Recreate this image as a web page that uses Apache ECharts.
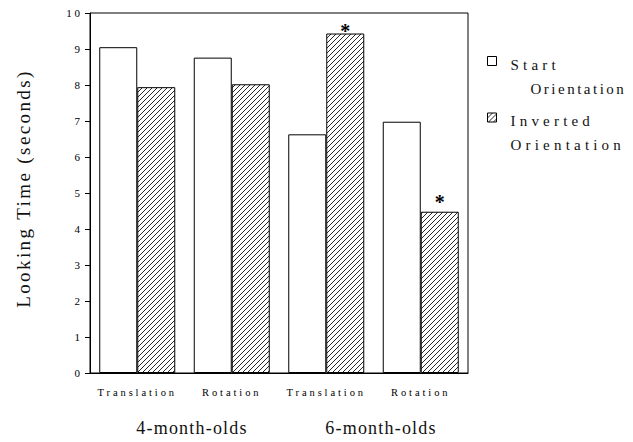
<!DOCTYPE html>
<html><head><meta charset="utf-8">
<script src="https://cdn.jsdelivr.net/npm/echarts@6/dist/echarts.min.js"></script>
<style>
html,body{margin:0;padding:0;background:#fff}
#c{width:633px;height:442px}
#c text[style*="Thorndale"]{letter-spacing:2.9px}
#c text[style*="Times, serif"]{letter-spacing:4.2px}
#c text[style*="Georgia"]{letter-spacing:2.5px}
#c text[style*="Tinos"]{letter-spacing:2.4px}
#c text[style*="Cambria"]{letter-spacing:1.2px}
</style></head><body><div id="c"></div>
<script>
const categories = ['Translation', 'Rotation', 'Translation', 'Rotation'];
const groups = ['4-month-olds', '6-month-olds'];
const seriesNames = ['Start Orientation', 'Inverted Orientation'];
const legendLines = [['Start', 'Orientation'], ['Inverted', 'Orientation']];
const startValues = [9.05, 8.76, 6.63, 6.98];
const invertedValues = [7.94, 8.02, 9.43, 4.48];
const significant = [false, false, true, true];
const yMin = 0, yMax = 10, yStep = 1;

const F_TICK = 'Liberation Serif, Thorndale, serif';
const F_LEG = 'Liberation Serif, Times, serif';
const F_LEG2 = 'Liberation Serif, Georgia, serif';
const F_NAME = 'Liberation Serif, Tinos, serif';
const F_GRP = 'Liberation Serif, Cambria, serif';

function hatch() {
  const s = 5, c = document.createElement('canvas');
  c.width = s; c.height = s;
  const g = c.getContext('2d');
  g.fillStyle = '#fff'; g.fillRect(0, 0, s, s);
  g.strokeStyle = '#111'; g.lineWidth = 0.9;
  g.beginPath();
  g.moveTo(-1, s + 1); g.lineTo(s + 1, -1);
  g.moveTo(-1, 1); g.lineTo(1, -1);
  g.moveTo(s - 1, s + 1); g.lineTo(s + 1, s - 1);
  g.stroke();
  return c;
}

const chart = echarts.init(document.getElementById('c'), null, {renderer: 'svg'});
const starDist = [0, 0, -7, 0];
chart.setOption({
  animation: false,
  backgroundColor: '#fff',
  grid: {left: 90, top: 13, right: 165, bottom: 69, show: true, borderColor: '#000', borderWidth: 1},
  legend: {
    orient: 'vertical', left: 487, top: 21.5, padding: 0,
    itemWidth: 9, itemHeight: 9, itemGap: -22.5, selectedMode: false, icon: 'rect',
    itemStyle: {borderWidth: 1, borderColor: '#000'},
    data: seriesNames,
    formatter: name => {
      const l = legendLines[seriesNames.indexOf(name)];
      return '{s| }\n{a|' + l[0] + '}\n' + (name === seriesNames[0] ? '{c|' + l[1] + '}' : '{a|' + l[1] + '}');
    },
    textStyle: {
      fontFamily: F_LEG, fontSize: 15, lineHeight: 24, color: '#111', padding: [0, 0, 0, 9],
      rich: {
        s: {fontSize: 1, lineHeight: 31},
        a: {fontFamily: F_LEG, fontSize: 15, lineHeight: 24, color: '#111'},
        c: {fontFamily: F_LEG2, fontSize: 15, lineHeight: 24, color: '#111', padding: [0, 0, 0, 20]}
      }
    }
  },
  xAxis: [{
    type: 'category', data: categories, gridIndex: 0,
    axisLine: {lineStyle: {color: '#000', width: 1}},
    axisTick: {alignWithLabel: true, length: 5, lineStyle: {color: '#000'}},
    axisLabel: {fontFamily: F_TICK, fontSize: 10.5, color: '#000', margin: 14}
  }, {
    type: 'category', data: groups, gridIndex: 0, position: 'bottom',
    axisLine: {show: false}, axisTick: {show: false},
    axisLabel: {margin: 46, fontFamily: F_GRP, fontSize: 18, color: '#111', padding: [0, 0, 0, 15]}
  }],
  yAxis: {
    type: 'value', min: yMin, max: yMax, interval: yStep,
    name: 'Looking Time (seconds)', nameLocation: 'middle', nameGap: 57,
    nameTextStyle: {fontFamily: F_NAME, fontSize: 19, color: '#111', padding: [0, 0, 0, 9]},
    axisLine: {show: true, lineStyle: {color: '#000'}},
    axisTick: {show: true, length: 5, lineStyle: {color: '#000'}},
    splitLine: {show: false},
    axisLabel: {fontFamily: F_TICK, fontSize: 11, color: '#000', margin: 7}
  },
  series: [{
    name: seriesNames[0], type: 'bar', xAxisIndex: 0, barWidth: 38, barGap: '0%',
    itemStyle: {color: '#fff', borderColor: '#000', borderWidth: 1},
    data: startValues
  }, {
    name: seriesNames[1], type: 'bar', xAxisIndex: 0, barWidth: 38, barGap: '0%',
    itemStyle: {color: {image: hatch(), repeat: 'repeat'}, borderColor: '#000', borderWidth: 1},
    label: {show: false, position: 'top', formatter: '*', fontFamily: 'Liberation Serif', fontSize: 20, fontWeight: 'bold', color: '#000'},
    data: invertedValues.map((v, i) => significant[i] ? {value: v, label: {show: true, distance: starDist[i]}} : v)
  }]
});
</script></body></html>
